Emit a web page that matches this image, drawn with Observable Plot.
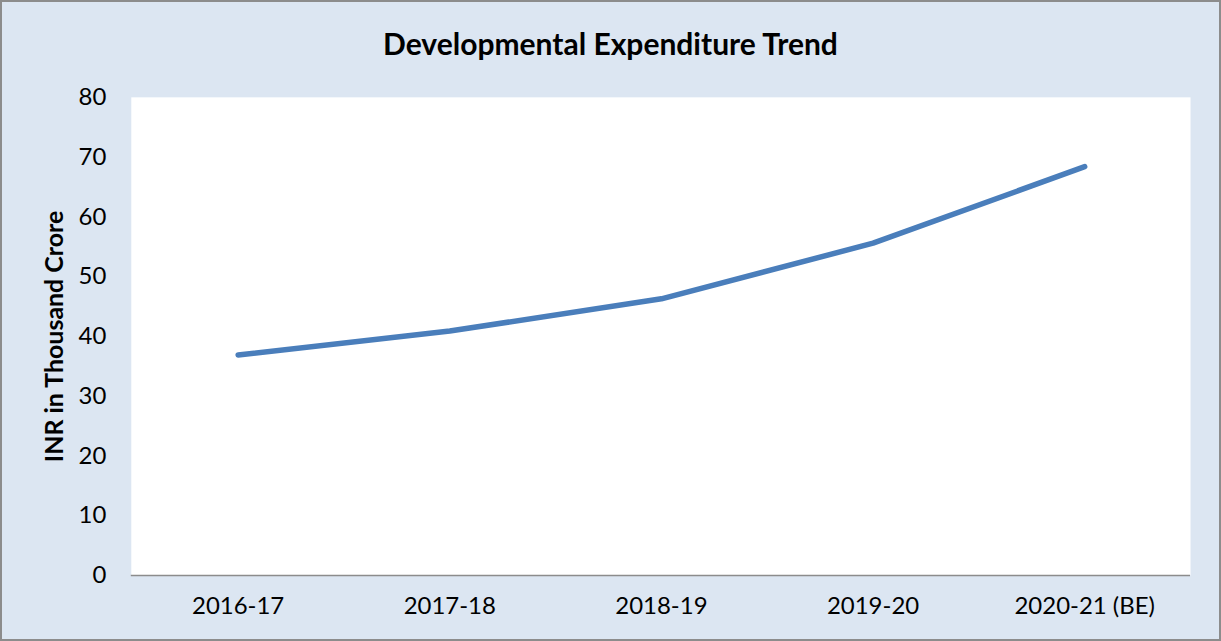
<!DOCTYPE html>
<html>
<head>
<meta charset="utf-8">
<script src="https://cdn.jsdelivr.net/npm/d3@7"></script>
<script src="https://cdn.jsdelivr.net/npm/@observablehq/plot@0.6"></script>
<style>
  html, body { margin: 0; padding: 0; background: #fff; }
  #chart {
    position: relative;
    width: 1217px; height: 637px;
    background: #dce6f2;
    border: 2px solid #8c8c8c;
    font-family: Lato, "Open Sans", sans-serif;
    overflow: hidden;
  }
  #title {
    position: absolute; left: 0; right: 0; top: 23px;
    text-align: center;
    font-weight: bold; font-size: 30px; color: #000;
  }
  #plot { position: absolute; left: -2px; top: -2px; }
</style>
</head>
<body>
<div id="chart">
  <div id="title">Developmental Expenditure Trend</div>
  <div id="plot"></div>
</div>
<script>
const years = ["2016-17", "2017-18", "2018-19", "2019-20", "2020-21 (BE)"];
const expenditure = [36.9, 40.9, 46.3, 55.6, 68.4];
const yTicks = [0, 10, 20, 30, 40, 50, 60, 70, 80];
const yLabel = "INR in Thousand Crore";

const data = years.map((y, i) => ({year: y, value: expenditure[i]}));

const chart = Plot.plot({
  width: 1221,
  height: 641,
  marginTop: 97,
  marginBottom: 65,
  marginLeft: 131,
  marginRight: 29,
  style: {background: "transparent", fontFamily: "Lato, 'Open Sans', sans-serif", fontSize: "24px", color: "#000"},
  x: {type: "point", domain: years, padding: 0.5, label: null},
  y: {domain: [0, 80], ticks: yTicks, label: null},
  marks: [
    Plot.frame({fill: "white", stroke: null}),
    Plot.ruleX([0], {frameAnchor: "left", stroke: "#8c8c8c", strokeWidth: 1.5}),
    Plot.ruleY([0], {stroke: "#8c8c8c", strokeWidth: 1.5}),
    Plot.axisY({ticks: yTicks, tickSize: 0, tickPadding: 25, fontSize: 24, label: null}),
    Plot.axisX({tickSize: 0, tickPadding: 21, fontSize: 24, label: null}),
    Plot.text([yLabel], {frameAnchor: "left", dx: -76, rotate: -90, textAnchor: "middle", fontWeight: "bold", fontSize: 25, fill: "#000"}),
    Plot.line(data, {x: "year", y: "value", stroke: "#4a7ebb", strokeWidth: 5.5, curve: "linear", strokeLinecap: "round", strokeLinejoin: "round"})
  ]
});
document.getElementById("plot").appendChild(chart);
</script>
</body>
</html>
